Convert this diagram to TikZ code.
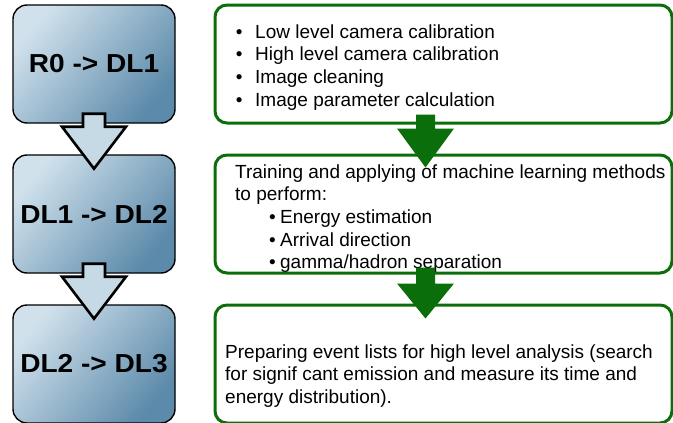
\documentclass[tikz,border=0pt]{standalone}
\usepackage{fontspec}
\setmainfont{Liberation Sans}
\newfontfamily\labfont{Liberation Sans}[FakeStretch=1.08]
\usetikzlibrary{calc}
\definecolor{gr}{RGB}{10,110,10}
\definecolor{bL}{RGB}{208,225,236}
\definecolor{bD}{RGB}{92,138,170}
\definecolor{bA}{RGB}{198,218,230}
\begin{document}
\begin{tikzpicture}[x=1pt,y=-1pt,
  stage/.style={draw=black, line width=1.4pt, rounded corners=14pt,
    top color=bL, bottom color=bD, shading angle=50,
    minimum width=162pt, minimum height=118pt, inner sep=0pt,
    font=\labfont\bfseries\fontsize{26}{30}\selectfont},
  info/.style={draw=gr, line width=3pt, rounded corners=12pt,
    minimum width=457pt, minimum height=118pt, inner sep=0pt},
  txt/.style={anchor=base west, inner sep=0pt, align=left,
    font=\fontsize{19}{22.7}\selectfont},
  hollow/.style={draw=black, line width=2.6pt, fill=bA, line join=miter},
  solidarrow/.style={fill=gr}
]
\useasboundingbox (0,0) rectangle (673,423);

% left stage boxes
\node[stage] (b1) at (94,64)  {R0 -> DL1};
\node[stage] (b2) at (94,214) {DL1 -> DL2};
\node[stage] (b3) at (94,364) {DL2 -> DL3};

% right description boxes
\node[info] (g1) at (443.5,64)  {};
\node[info] (g2) at (443.5,214) {};
\node[info] (g3) at (443.5,364) {};

% texts
\node[txt] (t1) at (235.7,38) {\begin{tabular}[t]{@{}l@{}}
\makebox[19.3pt][l]{•}Low level camera calibration\\
\makebox[19.3pt][l]{•}High level camera calibration\\
\makebox[19.3pt][l]{•}Image cleaning\\
\makebox[19.3pt][l]{•}Image parameter calculation
\end{tabular}};

\node[txt] (t2) at (235,178) {\begin{tabular}[t]{@{}l@{}}
Training and applying of machine learning methods\\
to perform:\\
\hspace*{34pt}\makebox[11pt][l]{•}Energy estimation\\
\hspace*{34pt}\makebox[11pt][l]{•}Arrival direction\\
\hspace*{34pt}\makebox[11pt][l]{•}gamma/hadron separation
\end{tabular}};

\node[txt] (t3) at (225,358) {\begin{tabular}[t]{@{}l@{}}
Preparing event lists for high level analysis (search\\
for signif cant emission and measure its time and\\
energy distribution).
\end{tabular}};

% hollow arrows between stages
\draw[hollow, shift={(b1.south)}] (-11,-10) -- (11,-10) -- (11,3) -- (32,3)
  -- (0,45) -- (-32,3) -- (-11,3) -- cycle;
\draw[hollow, shift={(b2.south)}] (-11,-10) -- (11,-10) -- (11,3) -- (32,3)
  -- (0,45) -- (-32,3) -- (-11,3) -- cycle;

% green arrows between descriptions
\coordinate (a1) at ($(g1.south)+(-18,0)$);
\coordinate (a2) at ($(g2.south)+(-18,0)$);
\fill[solidarrow, shift={(a1)}] (-9.5,-10) -- (9.5,-10) -- (9.5,4) -- (28.5,4)
  -- (0,43) -- (-28.5,4) -- (-9.5,4) -- cycle;
\fill[solidarrow, shift={(a2)}] (-9.5,-7) -- (9.5,-7) -- (9.5,9) -- (28.5,9)
  -- (0,44) -- (-28.5,9) -- (-9.5,9) -- cycle;
\end{tikzpicture}
\end{document}
